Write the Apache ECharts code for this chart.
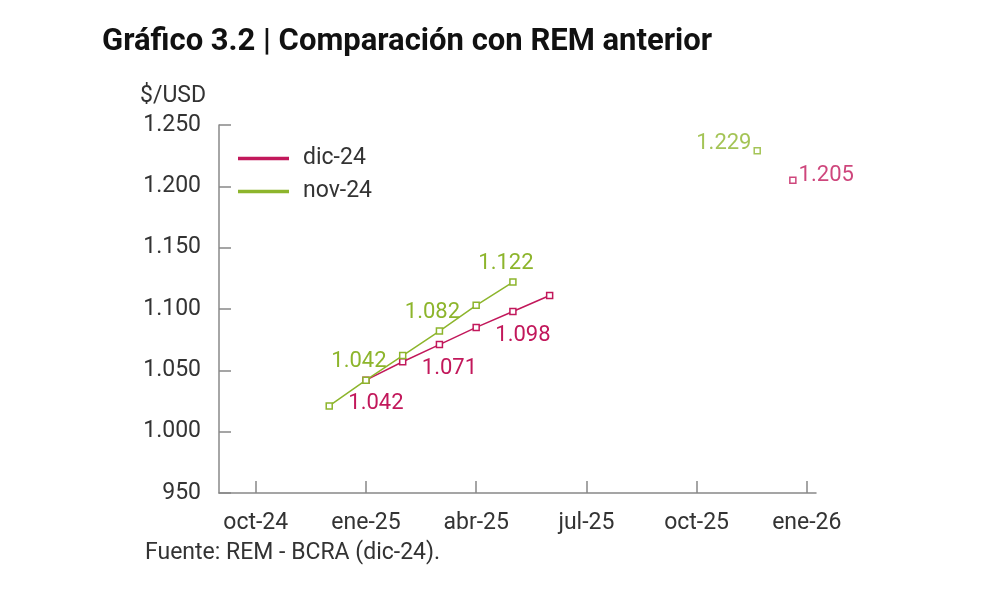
<!DOCTYPE html>
<html>
<head>
<meta charset="utf-8">
<script src="https://cdn.jsdelivr.net/npm/echarts@6/dist/echarts.min.js"></script>
<style>
html,body{margin:0;padding:0;background:#fff;}
#chart{width:983px;height:598px;}
</style>
</head>
<body>
<div id="chart"></div>
<script>
// x positions are month indices: 0 = oct-24
const tickPositions = [0, 3, 6, 9, 12, 15];
const tickLabels = ['oct-24', 'ene-25', 'abr-25', 'jul-25', 'oct-25', 'ene-26'];

const nov24Months = [2, 3, 4, 5, 6, 7];
const nov24Values = [1021, 1042, 1062, 1082, 1103, 1122];
const nov24AnnualPos = [13.65];
const nov24AnnualValue = [1229];

const dic24Months = [3, 4, 5, 6, 7, 8];
const dic24Values = [1042, 1057, 1071, 1085, 1098, 1111];
const dic24AnnualPos = [14.62];
const dic24AnnualValue = [1205];

const nov24Labeled = [1042, 1082, 1122];
const dic24Labeled = [1042, 1071, 1098];

const GREEN = '#8db52c';
const RED = '#c2185b';
const FONT = 'Roboto';

function fmt(v) {
  return v >= 1000 ? (v / 1000).toFixed(3) : String(v);
}
function pairs(xs, ys) { return xs.map((x, i) => [x, ys[i]]); }

const chart = echarts.init(document.getElementById('chart'));
chart.setOption({
  animation: false,
  backgroundColor: '#fff',
  textStyle: { fontFamily: FONT },
  grid: { left: 219, right: 167, top: 125, bottom: 105, containLabel: false },
  graphic: [
    { type: 'text', left: 102, top: 27, style: { text: 'Gráfico 3.2 | Comparación con REM anterior', font: 'bold 31px Roboto', fill: '#111' } },
    { type: 'text', left: 140, top: 85, style: { text: '$/USD', font: '23px Roboto', fill: '#333' } },
    { type: 'text', left: 145, top: 542, style: { text: 'Fuente: REM - BCRA (dic-24).', font: '23px Roboto', fill: '#333' } }
  ],
  legend: {
    left: 238, top: 147, orient: 'vertical', itemGap: 10, padding: 0,
    itemWidth: 49, itemHeight: 1.5,
    icon: 'rect',
    textStyle: { fontSize: 23, color: '#333', fontFamily: FONT, padding: [0, 0, 0, 10] },
    data: ['dic-24', 'nov-24']
  },
  xAxis: {
    type: 'value', min: -1, max: 15.25,
    axisLine: { onZero: false, lineStyle: { color: '#888', width: 1.5 } },
    axisTick: { show: true, inside: true, length: 12, customValues: tickPositions, lineStyle: { color: '#888', width: 1.5 } },
    axisLabel: {
      customValues: tickPositions, margin: 19, fontSize: 23, color: '#333', fontFamily: FONT,
      formatter: v => tickLabels[tickPositions.indexOf(Math.round(v))] || ''
    },
    splitLine: { show: false }
  },
  yAxis: {
    type: 'value', min: 950, max: 1250, interval: 50,
    axisLine: { show: true, onZero: false, lineStyle: { color: '#888', width: 1.5 } },
    axisTick: { show: true, inside: true, length: 12, lineStyle: { color: '#888', width: 1.5 } },
    axisLabel: { margin: 18, fontSize: 23, color: '#333', fontFamily: FONT, formatter: fmt },
    splitLine: { show: false }
  },
  series: [
    {
      name: 'dic-24', type: 'line', data: pairs(dic24Months, dic24Values),
      color: RED, lineStyle: { width: 1.5, color: RED },
      symbol: 'rect', symbolSize: 6, showAllSymbol: true,
      itemStyle: { color: '#fff', borderColor: RED, borderWidth: 1.5 },
      label: {
        show: true, position: 'bottom', distance: 9, offset: [10, 0],
        color: RED, fontSize: 22, fontFamily: FONT,
        formatter: p => dic24Labeled.includes(p.value[1]) ? fmt(p.value[1]) : ''
      },
      z: 3
    },
    {
      name: 'nov-24', type: 'line', data: pairs(nov24Months, nov24Values),
      color: GREEN, lineStyle: { width: 1.5, color: GREEN },
      symbol: 'rect', symbolSize: 6, showAllSymbol: true,
      itemStyle: { color: '#fff', borderColor: GREEN, borderWidth: 1.5 },
      label: {
        show: true, position: 'top', distance: 4, offset: [-7, 0],
        color: GREEN, fontSize: 22, fontFamily: FONT,
        formatter: p => nov24Labeled.includes(p.value[1]) ? fmt(p.value[1]) : ''
      },
      z: 4
    },
    {
      name: 'nov-24 anual', type: 'scatter', data: pairs(nov24AnnualPos, nov24AnnualValue),
      symbol: 'rect', symbolSize: 6,
      itemStyle: { color: '#fff', borderColor: GREEN, borderWidth: 1.5 },
      label: { show: true, position: 'left', distance: 2, offset: [0, -7], color: GREEN, fontSize: 22, fontFamily: FONT, formatter: p => fmt(p.value[1]) }
    },
    {
      name: 'dic-24 anual', type: 'scatter', data: pairs(dic24AnnualPos, dic24AnnualValue),
      symbol: 'rect', symbolSize: 6,
      itemStyle: { color: '#fff', borderColor: RED, borderWidth: 1.5 },
      label: { show: true, position: 'right', distance: 2, offset: [0, -5], color: RED, fontSize: 22, fontFamily: FONT, formatter: p => fmt(p.value[1]) }
    }
  ]
});
</script>
</body>
</html>
